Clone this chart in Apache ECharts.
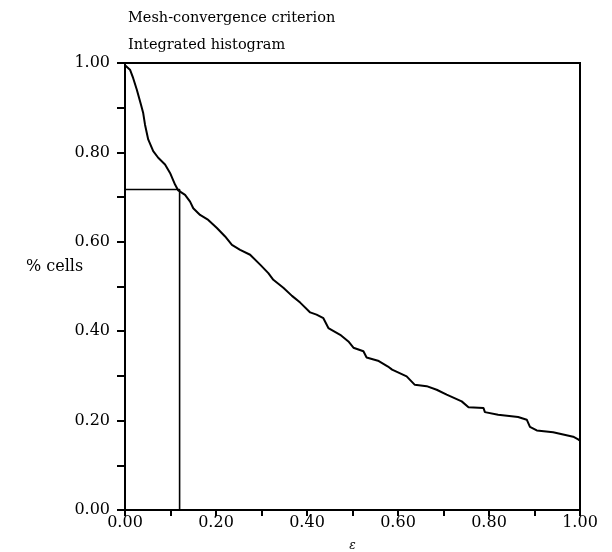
<!DOCTYPE html>
<html>
<head>
<meta charset="utf-8">
<script src="https://cdn.jsdelivr.net/npm/echarts@6/dist/echarts.min.js"></script>
<style>
  html, body { margin: 0; padding: 0; background: #fff; }
  #chart { width: 612px; height: 552px; }
</style>
</head>
<body>
<div id="chart"></div>
<script>
// Integrated histogram of the mesh-convergence criterion:
// fraction of cells whose error indicator exceeds epsilon.
const epsValues = [
  0.000, 0.011, 0.018, 0.026, 0.035, 0.040, 0.044, 0.051, 0.062, 0.073,
  0.088, 0.099, 0.110, 0.117, 0.132, 0.143, 0.150, 0.165, 0.183, 0.202,
  0.220, 0.235, 0.253, 0.275, 0.297, 0.315, 0.326, 0.348, 0.367, 0.385,
  0.407, 0.421, 0.436, 0.447, 0.473, 0.491, 0.502, 0.524, 0.531, 0.556,
  0.578, 0.587, 0.619, 0.637, 0.663, 0.685, 0.707, 0.740, 0.755, 0.788,
  0.791, 0.820, 0.864, 0.883, 0.890, 0.905, 0.941, 0.963, 0.985, 0.996,
  1.000
];
const cellFraction = [
  0.995, 0.985, 0.966, 0.940, 0.907, 0.888, 0.862, 0.829, 0.803, 0.788,
  0.773, 0.754, 0.728, 0.715, 0.705, 0.690, 0.675, 0.660, 0.649, 0.631,
  0.612, 0.593, 0.582, 0.571, 0.549, 0.530, 0.515, 0.497, 0.479, 0.464,
  0.442, 0.437, 0.429, 0.407, 0.392, 0.377, 0.363, 0.355, 0.341, 0.334,
  0.321, 0.314, 0.299, 0.280, 0.277, 0.269, 0.258, 0.243, 0.230, 0.228,
  0.219, 0.213, 0.208, 0.202, 0.186, 0.178, 0.174, 0.169, 0.164, 0.158,
  0.155
];
// Chosen threshold and the fraction of cells above it
const thresholdEps = 0.12;
const thresholdFraction = 0.717;

const titleLines = ['Mesh-convergence criterion', 'Integrated histogram'];
const yAxisTitle = '% cells';
const xAxisTitle = 'ε';

const serif = 'DejaVu Serif';
const curve = epsValues.map((e, i) => [e, cellFraction[i]]);
const marker = [[0, thresholdFraction], [thresholdEps, thresholdFraction], [thresholdEps, 0]];

function tickLabel(v) {
  const k = Math.round(v * 10);
  return k % 2 === 0 ? (k / 10).toFixed(2) : '';
}

const chart = echarts.init(document.getElementById('chart'), null, { renderer: 'canvas' });
chart.setOption({
  backgroundColor: '#fff',
  animation: false,
  title: [
    { text: titleLines[0], left: 123, top: 6,
      textStyle: { fontFamily: serif, fontSize: 14.5, fontWeight: 'normal', color: '#000' } },
    { text: titleLines[1], left: 123, top: 33,
      textStyle: { fontFamily: serif, fontSize: 14.5, fontWeight: 'normal', color: '#000' } }
  ],
  graphic: [
    { type: 'text', left: 26, top: 259,
      style: { text: yAxisTitle, font: '16px "DejaVu Serif"', fill: '#000' } }
  ],
  grid: {
    left: 125, right: 32, top: 63, bottom: 42,
    outerBoundsMode: 'none', containLabel: false,
    show: true, borderColor: '#000', borderWidth: 2, backgroundColor: 'transparent'
  },
  xAxis: {
    type: 'value', min: 0, max: 1, interval: 0.1,
    name: xAxisTitle, nameLocation: 'middle', nameGap: 30,
    nameTextStyle: { fontFamily: serif, fontSize: 12, fontStyle: 'italic', color: '#000' },
    axisLine: { show: true, lineStyle: { color: '#000', width: 2 } },
    axisTick: { show: true, length: 6, lineStyle: { color: '#000', width: 2 } },
    axisLabel: { formatter: tickLabel, fontFamily: serif, fontSize: 16, color: '#000', margin: 5 },
    splitLine: { show: false }
  },
  yAxis: {
    type: 'value', min: 0, max: 1, interval: 0.1,
    axisLine: { show: true, lineStyle: { color: '#000', width: 2 } },
    axisTick: { show: true, length: 8, lineStyle: { color: '#000', width: 2 } },
    axisLabel: { formatter: tickLabel, fontFamily: serif, fontSize: 16, color: '#000', margin: 15 },
    splitLine: { show: false }
  },
  series: [
    {
      type: 'line', data: curve, showSymbol: false, smooth: false,
      lineStyle: { color: '#000', width: 2 }, z: 3
    },
    {
      type: 'line', data: marker, showSymbol: false,
      lineStyle: { color: '#000', width: 1.6 }, z: 2
    }
  ]
});
</script>
</body>
</html>
